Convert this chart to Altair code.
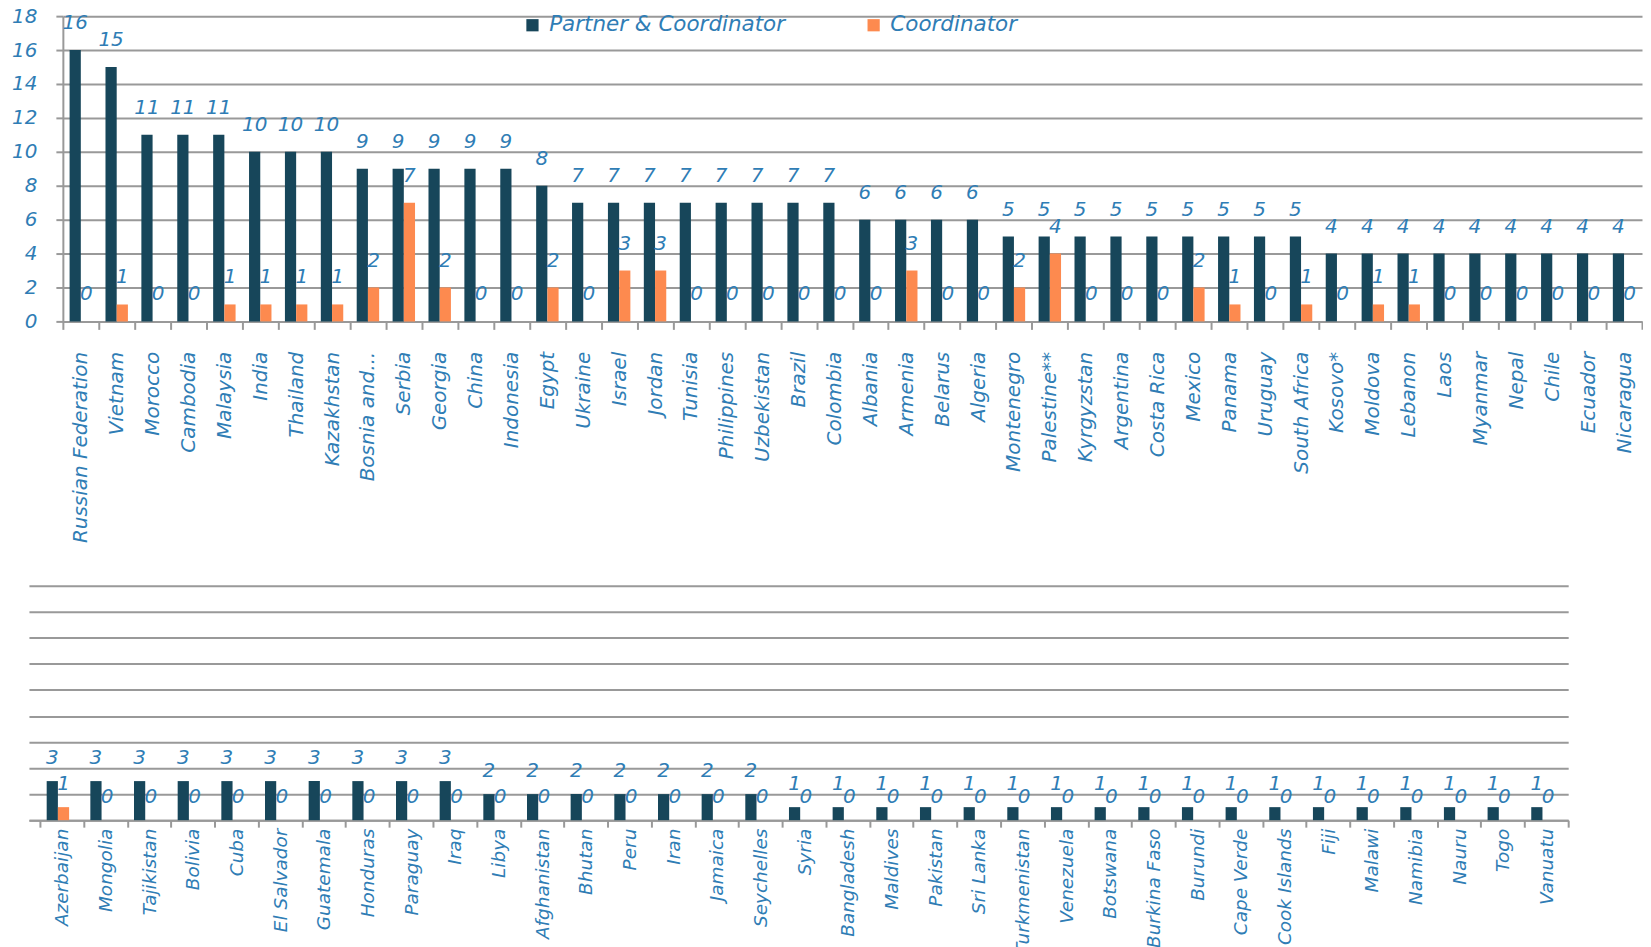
import altair as alt
import pandas as pd

# ---------------- data ----------------
top_countries = [
    "Russian Federation", "Vietnam", "Morocco", "Cambodia", "Malaysia", "India",
    "Thailand", "Kazakhstan", "Bosnia and...", "Serbia", "Georgia", "China",
    "Indonesia", "Egypt", "Ukraine", "Israel", "Jordan", "Tunisia", "Philippines",
    "Uzbekistan", "Brazil", "Colombia", "Albania", "Armenia", "Belarus", "Algeria",
    "Montenegro", "Palestine**", "Kyrgyzstan", "Argentina", "Costa Rica", "Mexico",
    "Panama", "Uruguay", "South Africa", "Kosovo*", "Moldova", "Lebanon", "Laos",
    "Myanmar", "Nepal", "Chile", "Ecuador", "Nicaragua",
]
top_partner = [16, 15, 11, 11, 11, 10, 10, 10, 9, 9, 9, 9, 9, 8, 7, 7, 7, 7, 7, 7, 7, 7,
               6, 6, 6, 6, 5, 5, 5, 5, 5, 5, 5, 5, 5, 4, 4, 4, 4, 4, 4, 4, 4, 4]
top_coord = [0, 1, 0, 0, 1, 1, 1, 1, 2, 7, 2, 0, 0, 2, 0, 3, 3, 0, 0, 0, 0, 0,
             0, 3, 0, 0, 2, 4, 0, 0, 0, 2, 1, 0, 1, 0, 1, 1, 0, 0, 0, 0, 0, 0]

bottom_countries = [
    "Azerbaijan", "Mongolia", "Tajikistan", "Bolivia", "Cuba", "El Salvador",
    "Guatemala", "Honduras", "Paraguay", "Iraq", "Libya", "Afghanistan", "Bhutan",
    "Peru", "Iran", "Jamaica", "Seychelles", "Syria", "Bangladesh", "Maldives",
    "Pakistan", "Sri Lanka", "Turkmenistan", "Venezuela", "Botswana", "Burkina Faso",
    "Burundi", "Cape Verde", "Cook Islands", "Fiji", "Malawi", "Namibia", "Nauru",
    "Togo", "Vanuatu",
]
bottom_partner = [3, 3, 3, 3, 3, 3, 3, 3, 3, 3, 2, 2, 2, 2, 2, 2, 2,
                  1, 1, 1, 1, 1, 1, 1, 1, 1, 1, 1, 1, 1, 1, 1, 1, 1, 1]
bottom_coord = [1, 0, 0, 0, 0, 0, 0, 0, 0, 0, 0, 0, 0, 0, 0, 0, 0,
                0, 0, 0, 0, 0, 0, 0, 0, 0, 0, 0, 0, 0, 0, 0, 0, 0, 0]

series_names = ["Partner & Coordinator", "Coordinator"]
y_ticks = [0, 2, 4, 6, 8, 10, 12, 14, 16, 18]

# ---------------- style ----------------
BAR_COLORS = ["#17465a", "#fd8a4f"]
TEXT = "#2f7db5"
GRID = "#999999"
FONT = "DejaVu Sans"


def long_df(countries, partner, coord):
    rows = []
    for c, p, k in zip(countries, partner, coord):
        rows.append({"country": c, "series": series_names[0], "value": p})
        rows.append({"country": c, "series": series_names[1], "value": k})
    return pd.DataFrame(rows)


def panel(df, countries, width, height, top):
    if top:
        xscale = alt.Scale(paddingInner=0, paddingOuter=0)
    else:
        # lower panel sits further left than the upper one (cropped view)
        xscale = alt.Scale(paddingInner=0, paddingOuter=0.126, align=1,
                           range=[-34, width])
    x = alt.X(
        "country:N", sort=countries, scale=xscale, title=None,
        axis=alt.Axis(
            labelAngle=270, labelFont=FONT, labelFontStyle="italic",
            labelFontSize=20 if top else 18.5, labelColor=TEXT,
            labelPadding=22 if top else 1,
            labelLimit=0, tickBand="extent", ticks=True,
            tickSize=8 if top else 7, tickColor=GRID, tickWidth=2,
            domainColor=GRID, domainWidth=2, grid=False,
        ),
    )
    xoff = alt.XOffset(
        "series:N", sort=series_names,
        scale=alt.Scale(paddingInner=0, paddingOuter=0.6 if top else 0.7),
    )
    if top:
        yaxis = alt.Axis(
            values=y_ticks, labelFont=FONT, labelFontStyle="italic",
            labelFontSize=20, labelColor=TEXT, labelPadding=19,
            tickSize=7, tickColor=GRID, tickWidth=2,
            domain=True, domainColor=GRID, domainWidth=2,
            grid=True, gridColor=GRID, gridWidth=2,
        )
    else:
        yaxis = alt.Axis(
            values=y_ticks, labels=False, ticks=False, domain=False,
            minExtent=0, grid=True, gridColor=GRID, gridWidth=2,
        )
    y = alt.Y("value:Q", scale=alt.Scale(domain=[0, 18], nice=False),
              axis=yaxis, title=None)
    if top:
        legend = alt.Legend(
            orient="none", legendX=460, legendY=-2, direction="horizontal",
            title=None, symbolType="square", symbolSize=150,
            symbolStrokeWidth=0, labelFont=FONT, labelFontStyle="italic",
            labelFontSize=21.5, labelColor=TEXT, columnPadding=77,
            labelLimit=0, labelOffset=6,
        )
    else:
        legend = None
    color = alt.Color(
        "series:N", sort=series_names,
        scale=alt.Scale(domain=series_names, range=BAR_COLORS), legend=legend,
    )
    bars = alt.Chart(df).mark_bar().encode(x=x, xOffset=xoff, y=y, color=color)
    labels = alt.Chart(df).mark_text(
        baseline="bottom", dy=-17 if top else -13, font=FONT,
        fontStyle="italic", fontSize=20, color=TEXT,
    ).encode(x=x, xOffset=xoff, y=y, text="value:Q")
    return alt.layer(bars, labels).properties(width=width, height=height)


top_chart = panel(long_df(top_countries, top_partner, top_coord),
                  top_countries, 1583, 306, True)
bottom_chart = panel(long_df(bottom_countries, bottom_partner, bottom_coord),
                     bottom_countries, 1509, 235, False)

chart = (
    alt.ConcatChart(
        concat=[top_chart, bottom_chart], columns=1, align="none", spacing=43,
        padding={"left": 3, "top": -3, "right": 0, "bottom": 0},
        background="white",
    )
    .resolve_scale(color="independent", x="independent", y="independent")
    .resolve_legend(color="independent")
    .configure_view(stroke=None)
)

chart.save("out.html", embed_options={"renderer": "svg", "actions": False})
